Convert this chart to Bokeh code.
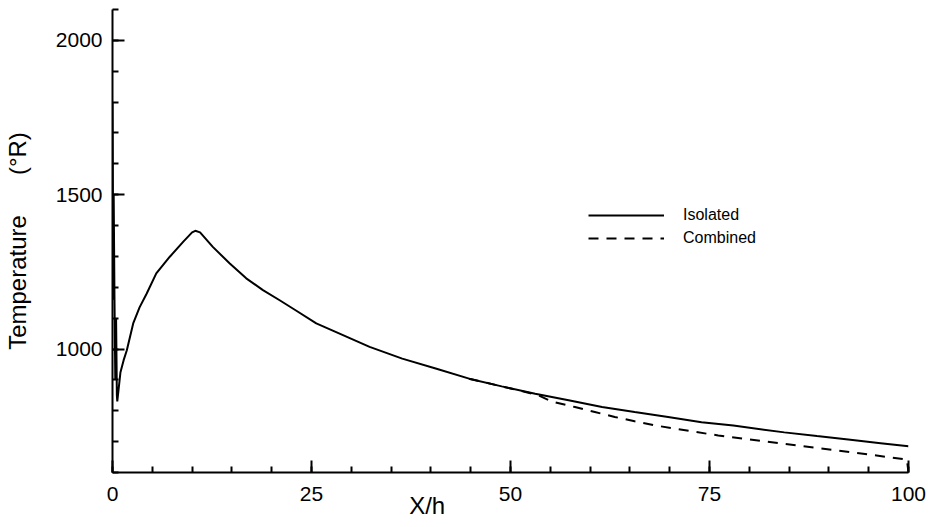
from bokeh.plotting import figure
from bokeh.models import Legend, LegendItem, SingleIntervalTicker, Range1d
from bokeh.embed import file_html
from bokeh.resources import INLINE

# ---- data ----
x_isolated = [0.0, 0.05, 0.1, 0.15, 0.25, 0.35, 0.45, 0.55, 0.6, 1.0, 1.4, 1.8, 2.6, 3.4, 4.3,
              5.5, 7.2, 8.9, 10.0, 10.4, 11.0, 12.6, 14.7, 16.8, 18.9, 21.0, 23.1, 25.6, 28.1,
              32.3, 36.4, 40.6, 44.8, 48.9, 53.1, 57.3, 61.5, 65.6, 69.8, 74.0, 78.0, 84.4,
              88.5, 92.7, 96.5, 100.0]
t_isolated = [1800, 1500, 1160, 1500, 1160, 900, 1100, 850, 830, 925, 964, 996, 1083, 1135, 1180,
              1245, 1299, 1348, 1378, 1383, 1378, 1331, 1278, 1229, 1191, 1158, 1124, 1083, 1055,
              1007, 969, 937, 904, 879, 855, 834, 812, 796, 780, 763, 752, 730,
              718, 706, 695, 685]

x_combined = [44.8, 48.9, 52.0, 53.5, 55.2, 58.1, 60.6, 63.1, 65.6, 68.1, 70.6, 76.1, 84.4,
              92.7, 99.8, 100.0]
t_combined = [904, 879, 860, 850, 830, 812, 796, 780, 766, 753, 742, 720, 693,
              666, 642, 600]

NB = "\u00a0"
x_label = "X/h" + NB * 25
y_label = "Temperature" + NB * 6 + "(\u00b0R)"
series_names = ["Isolated", "Combined"]

FONT = "Liberation Sans"

p = figure(width=932, height=527, output_backend="svg", toolbar_location=None,
           x_range=Range1d(0, 100), y_range=Range1d(600, 2100),
           min_border_left=110, min_border_right=24, min_border_top=9, min_border_bottom=55)
p.outline_line_color = None
p.xgrid.visible = False
p.ygrid.visible = False
p.background_fill_color = "white"
p.border_fill_color = "white"

r_iso = p.line(x_isolated, t_isolated, line_color="black", line_width=2)
r_comb = p.line(x_combined, t_combined, line_color="black", line_width=2, line_dash="10 8")

p.xaxis.ticker = SingleIntervalTicker(interval=25, num_minor_ticks=5)
p.yaxis.ticker = SingleIntervalTicker(interval=500, num_minor_ticks=5)

for ax in (p.xaxis[0], p.yaxis[0]):
    ax.axis_line_color = "black"
    ax.axis_line_width = 2
    ax.major_tick_in = 12
    ax.major_tick_out = 0
    ax.minor_tick_in = 6
    ax.minor_tick_out = 0
    ax.major_tick_line_width = 2
    ax.minor_tick_line_width = 2
    ax.major_tick_line_color = "black"
    ax.minor_tick_line_color = "black"
    ax.major_label_text_font = FONT
    ax.major_label_text_font_size = "21px"
    ax.major_label_text_color = "black"
    ax.axis_label_text_font = FONT
    ax.axis_label_text_font_style = "normal"
    ax.axis_label_text_color = "black"
    ax.axis_label_text_font_size = "24px"

p.xaxis.major_label_standoff = 14
p.xaxis.axis_label = x_label
p.xaxis.axis_label_standoff = -12

p.yaxis.major_label_standoff = 10
p.yaxis.axis_label = y_label
p.yaxis.axis_label_standoff = 22

legend = Legend(items=[LegendItem(label=series_names[0], renderers=[r_iso]),
                       LegendItem(label=series_names[1], renderers=[r_comb])],
                location=(476, 225), orientation="vertical",
                glyph_width=76, glyph_height=16, label_height=16, label_standoff=19,
                spacing=5, padding=0, margin=0,
                label_text_font=FONT, label_text_font_size="16px", label_text_color="black",
                border_line_color=None, background_fill_alpha=0)
p.add_layout(legend)

open("out.html", "w").write(file_html(p, INLINE))
